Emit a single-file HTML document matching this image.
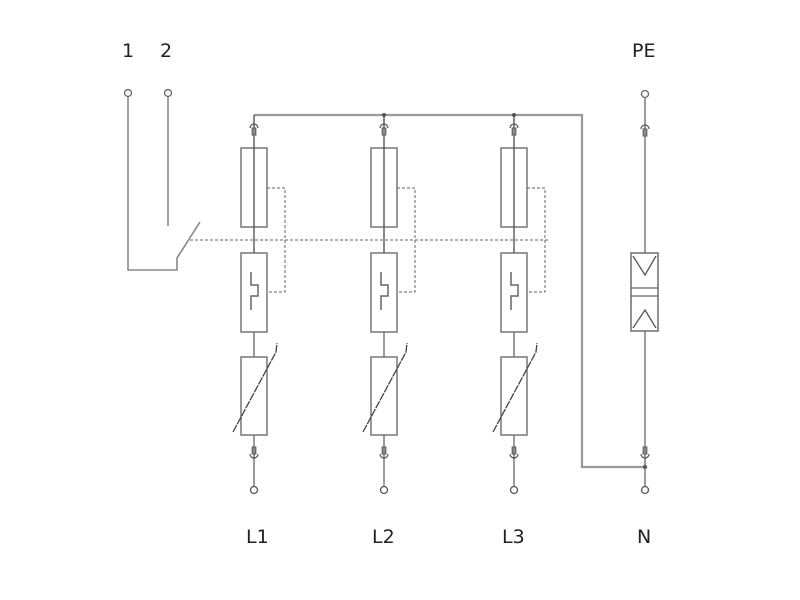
<!DOCTYPE html>
<html><head><meta charset="utf-8"><style>
html,body{margin:0;padding:0;background:#fff;}
svg{display:block;}
text{font-family:"DejaVu Sans","Liberation Sans",sans-serif;fill:#222;}
</style></head><body>
<svg width="800" height="600" viewBox="0 0 800 600" xmlns="http://www.w3.org/2000/svg">
<defs>
 <g id="conn" fill="none" stroke="#555" stroke-width="1.2">
  <path d="M-4,4 A4,4 0 0 1 4,4"/>
  <rect x="-1.8" y="4" width="3.6" height="7" fill="#888" stroke="#666"/>
 </g>
 <g id="connb" fill="none" stroke="#555" stroke-width="1.2">
  <rect x="-1.8" y="-11" width="3.6" height="7" fill="#888" stroke="#666"/>
  <path d="M-4,-4 A4,4 0 0 0 4,-4"/>
 </g>
 <g id="col" fill="none" stroke="#666" stroke-width="1.3">
  <rect x="-13" y="148" width="26" height="79" stroke="#777" stroke-width="1.5"/>
  <rect x="-13" y="253" width="26" height="79" stroke="#777" stroke-width="1.5"/>
  <rect x="-13" y="357" width="26" height="78" stroke="#777" stroke-width="1.5"/>
  <line x1="0" y1="115" x2="0" y2="253" stroke="#555" stroke-width="1.4"/>
  <line x1="0" y1="332" x2="0" y2="357"/>
  <line x1="0" y1="435" x2="0" y2="486"/>
  <path d="M13,188 H31 V292 H13" stroke-dasharray="3,2" stroke-width="1"/>
  <path d="M-3,272 V285 H4 V296 H-3 V310" stroke-width="1.5"/>
  <path d="M-21,432 L22,352 L23,343" stroke-dasharray="8,1" stroke-width="1.3" stroke="#444"/>
  <use href="#conn" transform="translate(0,124)"/>
  <use href="#connb" transform="translate(0,458)"/>
  <circle cx="0" cy="490" r="3.5" fill="#fff" stroke="#555"/>
 </g>
</defs>
<g fill="none" stroke="#666" stroke-width="1.3">
 <path d="M254,115 H582 V467 H645" stroke="#999" stroke-width="2.2"/>
 <circle cx="384" cy="115" r="2" fill="#555" stroke="none"/>
 <circle cx="514" cy="115" r="2" fill="#555" stroke="none"/>
 <circle cx="645" cy="467" r="2.2" fill="#555" stroke="none"/>
 <circle cx="128" cy="93" r="3.5" fill="#fff" stroke="#666"/>
 <circle cx="168" cy="93" r="3.5" fill="#fff" stroke="#666"/>
 <path d="M128,97 V270 H177 V258 L200,222" stroke="#888" stroke-width="1.6"/>
 <line x1="168" y1="97" x2="168" y2="226" stroke="#888" stroke-width="1.6"/>
 <line x1="190" y1="240" x2="548" y2="240" stroke-dasharray="3,2" stroke-width="1"/>
 <circle cx="645" cy="94" r="3.5" fill="#fff" stroke="#666"/>
 <line x1="645" y1="98" x2="645" y2="486"/>
 <use href="#conn" transform="translate(645,125)"/>
 <use href="#connb" transform="translate(645,458)"/>
 <circle cx="645" cy="490" r="3.5" fill="#fff" stroke="#555"/>
 <rect x="631" y="253" width="27" height="78" fill="#fff" stroke="#777" stroke-width="1.6"/>
 <path d="M633,256 L645,275 L656,256 M633,328 L645,310 L656,328" stroke="#555"/>
 <line x1="631" y1="288" x2="658" y2="288"/>
 <line x1="631" y1="296" x2="658" y2="296"/>
</g>
<use href="#col" transform="translate(254,0)"/>
<use href="#col" transform="translate(384,0)"/>
<use href="#col" transform="translate(514,0)"/>
<g font-size="19">
 <text x="122" y="57">1</text>
 <text x="160" y="57">2</text>
 <text x="632" y="57">PE</text>
 <text x="246" y="543">L1</text>
 <text x="372" y="543">L2</text>
 <text x="502" y="543">L3</text>
 <text x="637" y="543">N</text>
</g>
</svg>
</body></html>
